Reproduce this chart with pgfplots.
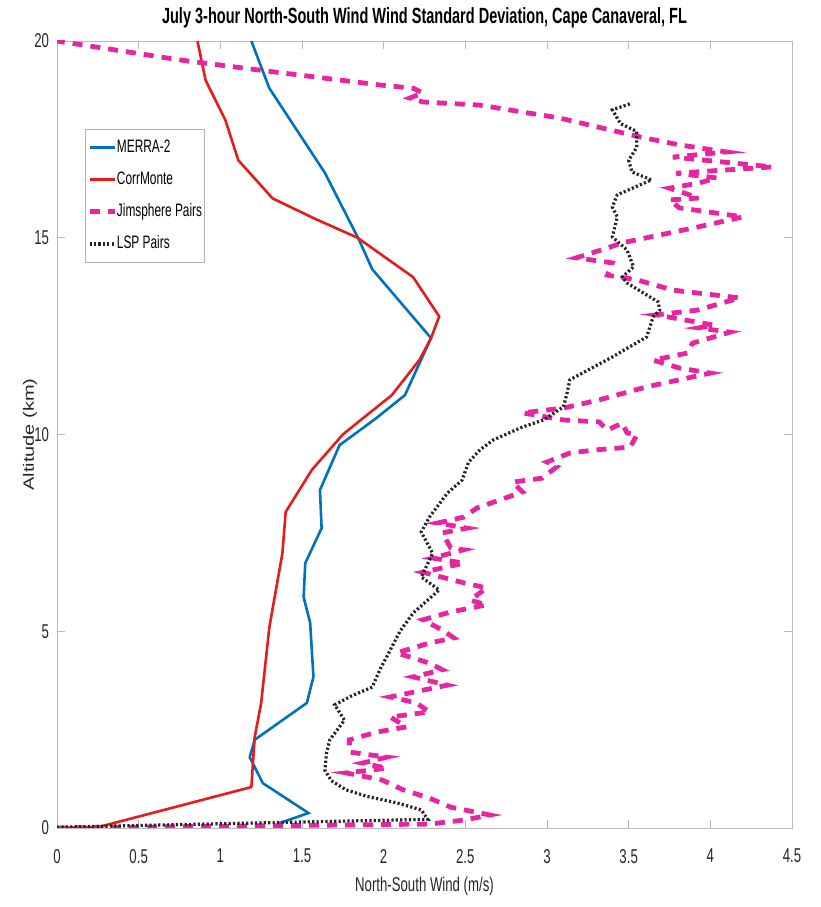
\documentclass[border=0pt]{standalone}
\usepackage{fontspec}
\setmainfont{Liberation Sans}[FakeStretch=0.66]
\newfontfamily\ylabfont{Liberation Sans}
\usepackage{pgfplots}
\pgfplotsset{compat=1.18}
\definecolor{mblue}{RGB}{0,114,189}
\definecolor{mred}{RGB}{228,28,28}
\definecolor{mpink}{RGB}{232,36,160}
\begin{document}
\begin{tikzpicture}
\useasboundingbox (-28.5pt,-39.5pt) rectangle (382pt,414pt);
\begin{axis}[
  scale only axis, width=367.5pt, height=393.5pt,
  xmin=0, xmax=4.5, ymin=0, ymax=20,
  xtick={0,0.5,1,1.5,2,2.5,3,3.5,4,4.5},
  xticklabels={0,0.5,1,1.5,2,2.5,3,3.5,4,4.5},
  ytick={0,5,10,15,20},
  yticklabels={0,5,10,15,20},
  tick align=inside, major tick length=4pt,
  axis line style={gray!55}, every tick/.style={gray!55},
  ticklabel style={font=\fontsize{10}{12}\selectfont, text=black!85},
  xticklabel style={yshift=-7pt},
  yticklabel style={xshift=-0.5pt},
  every axis title shift=0pt,
  title={July 3-hour North-South Wind Wind Standard Deviation, Cape Canaveral, FL},
  title style={font=\bfseries\fontsize{11}{12}\selectfont, at={(axis description cs:0.5,1.0292)}, anchor=center},
  xlabel={North-South Wind (m/s)},
  xlabel style={font=\fontsize{10}{12}\selectfont, text=black!85, at={(axis description cs:0.5,-0.0737)}, anchor=center},
  ylabel={\scalebox{1}[0.75]{Altitude (km)}},
  ylabel style={font=\ylabfont\fontsize{10}{12}\selectfont, text=black!85, at={(axis description cs:-0.0367,0.5)}, anchor=center},
  legend style={at={(axis cs:0.17,17.76)}, anchor=north west, draw=gray!60, fill=white,
    font=\fontsize{9}{10}\selectfont, row sep=4.2pt, inner xsep=1pt, inner ysep=3pt,
    nodes={inner xsep=0pt}, cells={anchor=west}},
  legend cell align=left,
  legend image code/.code={\draw[#1] (0pt,0pt) -- (12.5pt,0pt);},
]
\addplot[mblue, line width=1.3pt] coordinates {
(1.36,0.12)(1.54,0.38)(1.26,1.14)(1.18,1.80)(1.21,2.24)(1.53,3.18)(1.57,3.84)
(1.55,5.21)(1.51,5.87)(1.52,6.73)(1.62,7.62)(1.61,8.59)(1.73,9.73)(1.95,10.40)
(2.13,11.0)(2.29,12.45)(1.93,14.2)(1.85,14.94)(1.64,16.65)(1.30,18.8)(1.19,20)
};
\addlegendentry{MERRA-2}
\addplot[mred, line width=1.3pt] coordinates {
(0,0)(0.26,0.03)(1.19,1.04)(1.21,2.3)(1.25,3.18)(1.30,5.1)(1.38,6.98)(1.40,8.03)
(1.56,9.1)(1.75,10.0)(1.86,10.37)(2.05,11.0)(2.22,11.9)(2.29,12.45)(2.34,13.0)(2.18,14.0)
(1.84,15.0)(1.57,15.5)(1.32,16.0)(1.11,16.97)(1.03,18.0)(0.91,19.0)(0.86,20)
};
\addlegendentry{CorrMonte}
\addplot[mpink, line width=2.4pt, dash pattern=on 5pt off 4pt] coordinates {
(0,0.0)(2.28,0.10)(2.49,0.20)(2.65,0.33)(2.41,0.53)(2.28,0.76)(2.12,0.97)(1.99,1.22)
(1.77,1.40)(2.02,1.52)(1.87,1.65)(2.02,1.80)(1.79,1.93)(1.79,2.24)(1.96,2.44)(2.14,2.57)
(2.04,2.82)(2.28,2.95)(2.20,3.18)(2.04,3.33)(2.39,3.63)(2.18,3.84)(2.36,4.02)(2.28,4.19)
(2.08,4.45)(2.28,4.70)(2.43,4.83)(2.36,5.03)(2.24,5.29)(2.41,5.49)(2.63,5.67)(2.53,5.79)
(2.63,6.10)(2.49,6.23)(2.24,6.50)(2.49,6.73)(2.30,6.86)(2.49,7.07)(2.41,7.12)(2.36,7.50)
(2.51,7.62)(2.33,7.75)(2.49,7.90)(2.57,8.13)(2.85,8.54)(2.79,8.79)(2.97,8.89)(3.06,9.18)
(3.00,9.30)(3.14,9.53)(3.30,9.61)(3.51,9.68)(3.55,9.99)(3.49,10.04)(3.46,10.29)(3.37,10.11)
(3.32,10.32)(3.10,10.37)(2.85,10.55)(3.10,10.67)(3.32,10.88)(3.61,11.21)(4.00,11.56)
(3.81,11.69)(3.65,11.89)(3.86,12.07)(3.89,12.32)(4.12,12.60)(3.93,12.71)(4.02,12.78)
(3.67,13.04)(3.92,13.16)(4.18,13.47)(3.77,13.67)(3.55,13.93)(3.37,14.05)(3.40,14.36)
(3.18,14.49)(3.37,14.74)(3.46,14.87)(3.92,15.27)(4.20,15.53)(3.81,15.76)(3.75,15.96)
(3.93,16.01)(3.75,16.26)(3.93,16.39)(4.04,16.52)(3.79,16.64)(4.38,16.80)(3.77,17.05)
(4.10,17.18)(3.81,17.36)(3.57,17.56)(3.08,18.04)(2.59,18.37)(2.24,18.45)(2.16,18.55)
(2.24,18.68)(2.18,18.80)(1.98,18.88)(1.24,19.26)(0.75,19.52)(0,20)
};
\addlegendentry{Jimsphere Pairs}
\addplot[black!85, line width=1.6pt, dash pattern=on 1.1pt off 1.1pt] coordinates {
(0,0.02)(2.27,0.22)(2.23,0.46)(2.08,0.64)(1.90,0.80)(1.77,0.97)(1.68,1.20)(1.64,1.47)
(1.65,1.90)(1.67,2.24)(1.76,2.74)(1.70,3.13)(1.80,3.35)(1.93,3.58)(1.98,4.05)(2.04,4.52)
(2.10,5.00)(2.18,5.46)(2.34,6.05)(2.23,6.38)(2.30,6.98)(2.23,7.52)(2.28,7.90)(2.39,8.51)
(2.48,8.84)(2.52,9.30)(2.59,9.61)(2.67,9.86)(2.85,10.19)(2.98,10.37)(3.10,10.70)(3.12,11.0)
(3.14,11.39)(3.40,11.97)(3.61,12.48)(3.65,12.99)(3.69,13.16)(3.68,13.37)(3.49,13.85)
(3.46,14.0)(3.53,14.26)(3.49,14.69)(3.40,15.02)(3.43,15.53)(3.40,15.78)(3.43,16.09)
(3.64,16.47)(3.52,16.67)(3.50,16.97)(3.55,17.3)(3.55,17.7)(3.45,17.9)(3.40,18.25)(3.52,18.42)
};
\addlegendentry{LSP Pairs}
\end{axis}
\end{tikzpicture}
\end{document}
